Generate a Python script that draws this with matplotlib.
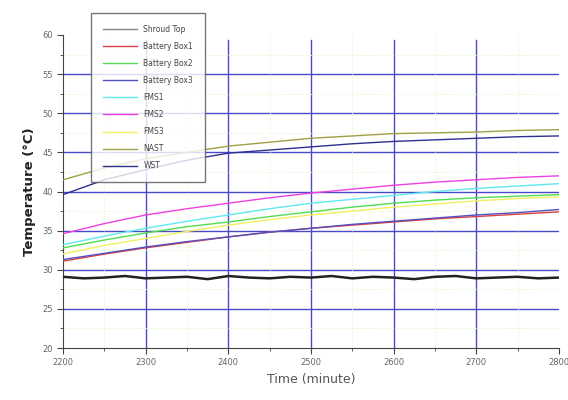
import numpy as np
import matplotlib
matplotlib.use("Agg")
import matplotlib.pyplot as plt
from matplotlib.ticker import MultipleLocator

# time axis (minutes)
t = [2200, 2250, 2300, 2350, 2400, 2450, 2500, 2550, 2600, 2650, 2700, 2750, 2800]
t_fine = list(range(2200, 2801, 25))

shroud_top = [29.1, 28.9, 29.0, 29.2, 28.9, 29.0, 29.1, 28.8, 29.2, 29.0, 28.9, 29.1, 29.0,
              29.2, 28.9, 29.1, 29.0, 28.8, 29.1, 29.2, 28.9, 29.0, 29.1, 28.9, 29.0]
battery_box1 = [31.1, 32.0, 32.8, 33.5, 34.2, 34.8, 35.3, 35.7, 36.1, 36.5, 36.8, 37.1, 37.4]
battery_box2 = [32.8, 33.8, 34.7, 35.5, 36.1, 36.8, 37.4, 38.0, 38.5, 38.9, 39.2, 39.4, 39.6]
battery_box3 = [31.3, 32.1, 32.9, 33.6, 34.2, 34.8, 35.3, 35.8, 36.2, 36.6, 37.0, 37.3, 37.7]
fms1 = [33.2, 34.3, 35.3, 36.2, 37.0, 37.8, 38.5, 39.0, 39.5, 40.0, 40.4, 40.7, 41.0]
fms2 = [34.6, 35.9, 37.0, 37.8, 38.5, 39.2, 39.8, 40.3, 40.8, 41.2, 41.5, 41.8, 42.0]
fms3 = [32.0, 33.1, 34.0, 34.9, 35.7, 36.4, 37.0, 37.5, 38.0, 38.4, 38.8, 39.1, 39.3]
nast = [41.5, 43.0, 44.2, 45.0, 45.8, 46.3, 46.8, 47.1, 47.4, 47.5, 47.6, 47.8, 47.9]
wst = [39.6, 41.5, 42.8, 44.0, 44.9, 45.3, 45.7, 46.1, 46.4, 46.6, 46.8, 47.0, 47.1]

# interior grid positions
grid_x = [2300, 2400, 2500, 2600, 2700]
grid_y = [25, 30, 35, 40, 45, 50, 55]

fig = plt.figure(figsize=(5.68, 4.0), dpi=100)
ax = fig.add_axes([0.111, 0.13, 0.873, 0.7825])

ax.xaxis.set_major_locator(MultipleLocator(100))
ax.xaxis.set_minor_locator(MultipleLocator(50))
ax.yaxis.set_major_locator(MultipleLocator(5))
ax.yaxis.set_minor_locator(MultipleLocator(2.5))
ax.grid(which="minor", color="#e2f4c4", lw=0.7, ls=":", zorder=0)
for gx in grid_x:
    ax.axvline(gx, ymax=0.985, color="#4a4ac8", lw=1.0, zorder=1)
for gy in grid_y:
    ax.axhline(gy, color="#4a4ac8", lw=1.0, zorder=1)

ax.plot(t_fine, shroud_top, color="#222222", lw=1.8, label="Shroud Top", zorder=3)
ax.plot(t, battery_box1, color="#e04040", lw=1.0, label="Battery Box1", zorder=3)
ax.plot(t, battery_box2, color="#50dd50", lw=1.0, label="Battery Box2", zorder=3)
ax.plot(t, battery_box3, color="#5050c0", lw=1.0, label="Battery Box3", zorder=3)
ax.plot(t, fms1, color="#60e8f0", lw=1.0, label="FMS1", zorder=3)
ax.plot(t, fms2, color="#f040e0", lw=1.0, label="FMS2", zorder=3)
ax.plot(t, fms3, color="#f0f060", lw=1.0, label="FMS3", zorder=3)
ax.plot(t, nast, color="#a0a048", lw=1.0, label="NAST", zorder=3)
ax.plot(t, wst, color="#303090", lw=1.0, label="WST", zorder=3)

ax.set_xlim(2200, 2800)
ax.set_ylim(20, 60)
for s in ["top", "right"]:
    ax.spines[s].set_visible(False)
for s in ["left", "bottom"]:
    ax.spines[s].set_color("#444444")
ax.tick_params(which="both", direction="out", colors="#444444", labelsize=6,
               labelcolor="#666666")
ax.tick_params(which="major", length=4)
ax.tick_params(which="minor", length=2)

ax.set_xlabel("Time (minute)", fontsize=9, color="#555555")
ax.set_ylabel("Temperature (°C)", fontsize=9.5, color="#222222", fontweight="bold")

leg = ax.legend(loc="upper left", bbox_to_anchor=(0.048, 1.083), fontsize=5.5,
                frameon=True, fancybox=False, borderpad=1.6, labelspacing=1.05,
                handlelength=4.5, edgecolor="#555555")
leg.get_frame().set_linewidth(1.0)
leg.legend_handles[0].set_linewidth(1.0)
leg.legend_handles[0].set_color("#888888")
for txt in leg.get_texts():
    txt.set_color("#444444")
leg.set_zorder(5)

fig.savefig("out.png", dpi=100)
